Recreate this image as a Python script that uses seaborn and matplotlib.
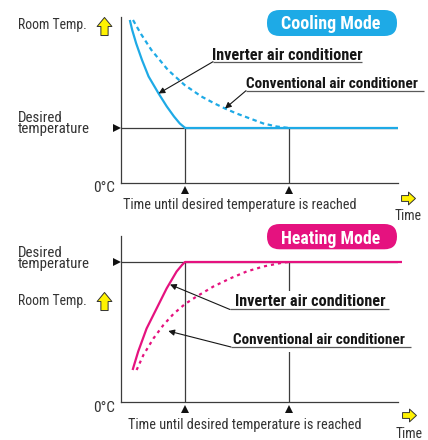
import matplotlib
matplotlib.use("Agg")
import matplotlib.pyplot as plt
import seaborn as sns
from matplotlib import font_manager
from matplotlib.patches import FancyBboxPatch, Rectangle
from matplotlib.path import Path

# ---------------------------------------------------------------------------
# Data (time in minutes, temperature in relative units above 0 °C)
# ---------------------------------------------------------------------------
reach_times = [16.0, 42.0]            # inverter, conventional
time_axis_end = 69.25
temp_axis_top = 33.2
cool_desired = 11.0
heat_desired = 28.0

cool_inv_time = [2.2, 2.8, 3.8, 5.25, 6.9, 9.4, 11.45, 13.25, 14.7, 15.9, 16.0, 69.25]
cool_inv_temp = [32.6, 30.6, 27.9, 24.6, 21.3, 17.9, 15.3, 13.3, 11.9, 11.1, 11.0, 11.0]

cool_conv_time = [3.0, 5.0, 7.6, 11.75, 15.9, 20.1, 23.4, 26.0, 28.9, 32.25, 35.6, 38.9, 42.0]
cool_conv_temp = [32.6, 29.8, 26.6, 22.6, 19.6, 17.3, 15.9, 14.9, 13.9, 12.9, 11.9, 11.3, 11.0]

heat_inv_time = [2.9, 4.3, 6.4, 8.9, 11.4, 13.9, 15.25, 16.0, 70.25]
heat_inv_temp = [6.4, 10.1, 14.7, 18.7, 22.7, 26.1, 27.4, 28.0, 28.0]

heat_conv_time = [3.9, 5.6, 8.1, 10.6, 13.1, 16.0, 18.9, 23.1, 27.25, 31.4, 35.6, 40.6, 42.0]
heat_conv_temp = [6.4, 9.4, 12.7, 15.4, 17.6, 19.6, 21.1, 23.1, 24.7, 26.1, 27.1, 27.9, 28.0]

label_room = "Room Temp."
label_desired = "Desired\ntemperature"
label_zero = "0°C"
label_reach = "Time until desired temperature is reached"
label_time = "Time"
label_inverter = "Inverter air conditioner"
label_conventional = "Conventional air conditioner"
mode_titles = ["Cooling Mode", "Heating Mode"]

# ---------------------------------------------------------------------------
BLUE = "#1eaae6"
PINK = "#e5127f"
AXIS = "#3c3c3c"
TEXT = "#333333"
INK = "#161616"
YELLOW = "#fff200"

sns.set_theme(style="white")

# prefer a narrow humanist face when one is installed
installed = {f.name for f in font_manager.fontManager.ttflist}
preferred = ["Liberation Sans Narrow", "Roboto Condensed", "Open Sans Condensed",
             "DejaVu Sans Condensed", "Noto Sans Condensed", "Lato", "Roboto"]
base_font = next((f for f in preferred if f in installed), "DejaVu Sans")
plt.rcParams["font.family"] = [base_font, "DejaVu Sans"]

W, H = 428, 440
fig = plt.figure(figsize=(W / 100, H / 100), dpi=100)


def rect(left, top, right, bottom):
    return [left / W, 1 - bottom / H, (right - left) / W, (bottom - top) / H]


ax_cool = fig.add_axes(rect(121, 17, 398, 183))
ax_heat = fig.add_axes(rect(121, 236, 398, 402))

# transparent canvas in pixel units for labels and decorations
canvas = fig.add_axes([0, 0, 1, 1])
canvas.set_xlim(0, W)
canvas.set_ylim(H, 0)
canvas.axis("off")
canvas.patch.set_alpha(0)

UP_ARROW = Path(
    [(-0.2, -0.5), (0.2, -0.5), (0.2, 0.0), (0.41, 0.0), (0.0, 0.5),
     (-0.41, 0.0), (-0.2, 0.0), (-0.2, -0.5)],
    [Path.MOVETO] + [Path.LINETO] * 6 + [Path.CLOSEPOLY],
)
RIGHT_ARROW = Path(
    [(-0.5, -0.21), (0.0, -0.21), (0.0, -0.46), (0.5, 0.0), (0.0, 0.46),
     (0.0, 0.21), (-0.5, 0.21), (-0.5, -0.21)],
    [Path.MOVETO] + [Path.LINETO] * 6 + [Path.CLOSEPOLY],
)


def draw_panel(ax, desired, inv_t, inv_T, conv_t, conv_T, color, dash):
    ax.set_xlim(0, time_axis_end)
    ax.set_ylim(0, temp_axis_top)
    ax.set_xticks([])
    ax.set_yticks([])
    ax.patch.set_alpha(0)
    for side in ("top", "right"):
        ax.spines[side].set_visible(False)
    for side in ("left", "bottom"):
        ax.spines[side].set_color(AXIS)
        ax.spines[side].set_linewidth(0.9)

    ax.hlines(desired, 0, time_axis_end, color=AXIS, lw=0.9, zorder=1)
    ax.vlines(reach_times, 0, desired, color=AXIS, lw=0.9, zorder=1)

    sns.lineplot(x=conv_t, y=conv_T, ax=ax, color=color, linewidth=1.6,
                 linestyle=(0, dash), estimator=None, sort=False,
                 clip_on=False, zorder=3)
    sns.lineplot(x=inv_t, y=inv_T, ax=ax, color=color, linewidth=1.6,
                 estimator=None, sort=False, clip_on=False, zorder=4,
                 solid_capstyle="butt")

    # pointers on the axes
    ax.plot(reach_times, [-1.4] * len(reach_times), "^", color="#111111",
            ms=6, mew=0, clip_on=False)
    ax.plot([-1.1], [desired], ">", color="#111111", ms=6, mew=0,
            clip_on=False)


draw_panel(ax_cool, cool_desired, cool_inv_time, cool_inv_temp,
           cool_conv_time, cool_conv_temp, BLUE, (2.0, 1.6))
draw_panel(ax_heat, heat_desired, heat_inv_time, heat_inv_temp,
           heat_conv_time, heat_conv_temp, PINK, (1.4, 1.8))

# break the conventional marker line behind the heating labels
canvas.add_patch(Rectangle((283, 291), 12, 61, facecolor="white",
                           edgecolor="none", zorder=2))

fitted = []   # (text artist, wanted width in pixels)


def label(x, y, s, width, **kw):
    kw.setdefault("color", TEXT)
    kw.setdefault("va", "baseline")
    t = canvas.text(x, y, s, fontsize=11, **kw)
    fitted.append((t, width))
    return t


# axis annotations for both panels
label(18, 28.5, label_room, 69)
label(18, 305.5, label_room, 69)
canvas.plot([104.5, 104.5], [26.5, 301.5], marker=UP_ARROW, ls="none",
            ms=13, mfc=YELLOW, mec="#333333", mew=0.7)
canvas.plot([408.5, 409], [198, 415], marker=RIGHT_ARROW, ls="none",
            ms=10, mfc=YELLOW, mec="#333333", mew=0.7)

# the baseline given is that of the lower line
for yb in (133.5, 268.3):
    label(18, yb, label_desired, 71, linespacing=0.74, multialignment="left")

for yb in (192.5, 411.5):
    label(115, yb, label_zero, 22, ha="right")

label(123, 209.5, label_reach, 234)
label(128, 428.5, label_reach, 234)
label(408, 219.5, label_time, 27, ha="center")
label(409, 438, label_time, 27, ha="center")

# mode badges
for (top, height, color, title, base) in (
        (10, 26, BLUE, mode_titles[0], 29.3),
        (224, 25.3, PINK, mode_titles[1], 243.6)):
    canvas.add_patch(FancyBboxPatch((267, top), 130, height,
                                    boxstyle="round,pad=0,rounding_size=12.6",
                                    facecolor=color, edgecolor="none", zorder=3))
    label(331, base, title, 99, fontweight="bold", color="white",
          ha="center", zorder=4)

# curve call-outs: text, underline and a leader to the curve
callouts = [
    (ax_cool, label_inverter, 212, 59.5, 61.7, 213, 362,
     (cool_inv_time[5], cool_inv_temp[5]), "data", 149),
    (ax_cool, label_conventional, 246, 88.0, 90.7, 246, 424,
     (cool_conv_time[7], cool_conv_temp[7]), "data", 171),
    (ax_heat, label_inverter, 235.5, 306.5, 309.5, 230, 389,
     (170, 284.5), canvas.transData, 149),
    (ax_heat, label_conventional, 233, 344.5, 347.0, 231, 411,
     (168.3, 331), canvas.transData, 172),
]
for ax, text, tx, tb, uy, ux0, ux1, tip, tipcoords, width in callouts:
    label(tx, tb, text, width, fontweight="bold", color=INK, zorder=5)
    canvas.plot([ux0, ux1], [uy, uy], color="#5a5a5a", lw=0.9, zorder=5,
                solid_capstyle="butt")
    ax.annotate("", xy=tip, xycoords=tipcoords, xytext=(ux0, uy),
                textcoords=canvas.transData, annotation_clip=False,
                arrowprops=dict(arrowstyle="-|>", color=INK, lw=0.8,
                                shrinkA=0, shrinkB=0, mutation_scale=9),
                zorder=6)

# size every label so that it spans its intended width
fig.canvas.draw()
renderer = fig.canvas.get_renderer()
for t, width in fitted:
    current = t.get_window_extent(renderer).width
    t.set_fontsize(t.get_fontsize() * width / current)

fig.savefig("out.png", dpi=100, facecolor="white")
